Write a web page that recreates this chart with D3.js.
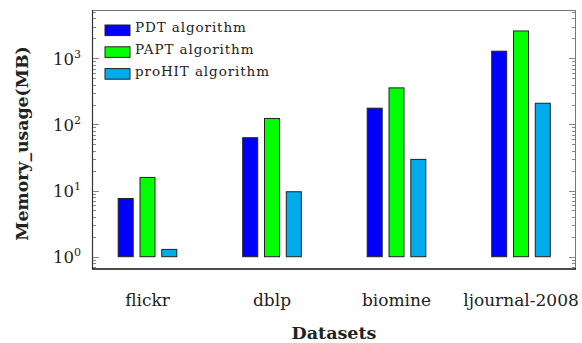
<!DOCTYPE html>
<html>
<head>
<meta charset="utf-8">
<script src="https://cdn.jsdelivr.net/npm/d3@7"></script>
<style>
  html, body { margin: 0; padding: 0; background: #fff; }
  svg { display: block; }
  text { font-family: "DejaVu Serif", serif; fill: #222; }
</style>
</head>
<body>
<svg id="chart" width="582" height="343"></svg>
<script>
// Memory usage (MB) per dataset for each algorithm
const datasets = ["flickr", "dblp", "biomine", "ljournal-2008"];
const algorithms = ["PDT algorithm", "PAPT algorithm", "proHIT algorithm"];
const pdtValues = [7.6, 63, 176, 1280];
const paptValues = [15.8, 123, 357, 2590];
const prohitValues = [1.29, 9.6, 29.6, 209];
const colors = ["#0000ff", "#00ff00", "#00acec"];
const majorTicks = [1, 10, 100, 1000];

const series = [pdtValues, paptValues, prohitValues];

const svg = d3.select("#chart");
const margin = { left: 92, right: 6, top: 10, bottom: 74 };
const W = 582, H = 343;
const x0 = margin.left, x1 = W - margin.right;
const yTop = margin.top, yBot = H - margin.bottom;

const y = d3.scaleLog().domain([0.652, 5370]).range([yBot, yTop]);

const groupX = d3.scalePoint().domain(datasets).range([147.5, 521]);
const barW = 15, barStep = 21.8;

// minor ticks: 2..9 x 10^k inside the domain
const minorTicks = [];
for (let k = -1; k <= 3; k++) {
  for (let m = 2; m <= 9; m++) {
    const v = m * Math.pow(10, k);
    if (v >= y.domain()[0] && v <= y.domain()[1]) minorTicks.push(v);
  }
}

// tick marks on both vertical sides, pointing inward
const tickG = svg.append("g").attr("stroke", "#888").attr("stroke-width", 1);
[[x0, 1], [x1, -1]].forEach(([xx, dir]) => {
  tickG.selectAll(null).data(majorTicks).enter().append("line")
    .attr("x1", xx).attr("x2", xx + dir * 7)
    .attr("y1", d => Math.round(y(d)) + 0.5).attr("y2", d => Math.round(y(d)) + 0.5);
  tickG.selectAll(null).data(minorTicks).enter().append("line")
    .attr("x1", xx).attr("x2", xx + dir * 4)
    .attr("y1", d => Math.round(y(d)) + 0.5).attr("y2", d => Math.round(y(d)) + 0.5);
});

// bars, rising from 10^0
datasets.forEach((ds, i) => {
  series.forEach((vals, j) => {
    const cx = groupX(ds) + (j - 1) * barStep;
    svg.append("rect")
      .attr("x", cx - barW / 2)
      .attr("y", y(vals[i]))
      .attr("width", barW)
      .attr("height", y(1) - y(vals[i]))
      .attr("fill", colors[j])
      .attr("stroke", "#222")
      .attr("stroke-width", 1);
  });
});

// frame
svg.append("line").attr("x1", x0).attr("x2", x1).attr("y1", yTop + 0.5).attr("y2", yTop + 0.5)
  .attr("stroke", "#777").attr("stroke-width", 1);
svg.append("line").attr("x1", x1 - 0.5).attr("x2", x1 - 0.5).attr("y1", yTop).attr("y2", yBot)
  .attr("stroke", "#777").attr("stroke-width", 1);
svg.append("line").attr("x1", x0 + 0.5).attr("x2", x0 + 0.5).attr("y1", yTop).attr("y2", yBot)
  .attr("stroke", "#333").attr("stroke-width", 1.2);
svg.append("line").attr("x1", x0).attr("x2", x1).attr("y1", yBot).attr("y2", yBot)
  .attr("stroke", "#111").attr("stroke-width", 1.5);

// y tick labels: 10 with a superscript exponent
const yLab = svg.append("g");
majorTicks.forEach(v => {
  const t = yLab.append("text")
    .attr("x", 81).attr("y", y(v) + 6.7)
    .attr("text-anchor", "end")
    .style("font-size", "16.5px");
  t.append("tspan").text("10");
  t.append("tspan").attr("dy", -7).style("font-size", "11px").text(Math.round(Math.log10(v)));
});

// category labels
svg.append("g").selectAll("text").data(datasets).enter().append("text")
  .attr("x", d => groupX(d)).attr("y", 305.5)
  .attr("text-anchor", "middle")
  .style("font-size", "17px")
  .text(d => d);

// axis titles
svg.append("text").attr("x", (x0 + x1) / 2).attr("y", 338.5)
  .attr("text-anchor", "middle")
  .style("font-size", "17.5px").style("font-weight", "bold")
  .text("Datasets");
svg.append("text")
  .attr("transform", `translate(28, ${(yTop + yBot) / 2 + 4}) rotate(-90)`)
  .attr("text-anchor", "middle")
  .style("font-size", "17.3px").style("font-weight", "bold")
  .text("Memory_usage(MB)");

// legend
const leg = svg.append("g");
algorithms.forEach((name, j) => {
  const cy = 30.3 + j * 21.8;
  leg.append("rect").attr("x", 105).attr("y", cy - 5.3).attr("width", 25).attr("height", 10.6)
    .attr("fill", colors[j]).attr("stroke", "#222").attr("stroke-width", 1);
  leg.append("text").attr("x", 135).attr("y", cy + 1.8)
    .style("font-size", "13.5px").style("letter-spacing", "0.9px").text(name);
});
</script>
</body>
</html>
